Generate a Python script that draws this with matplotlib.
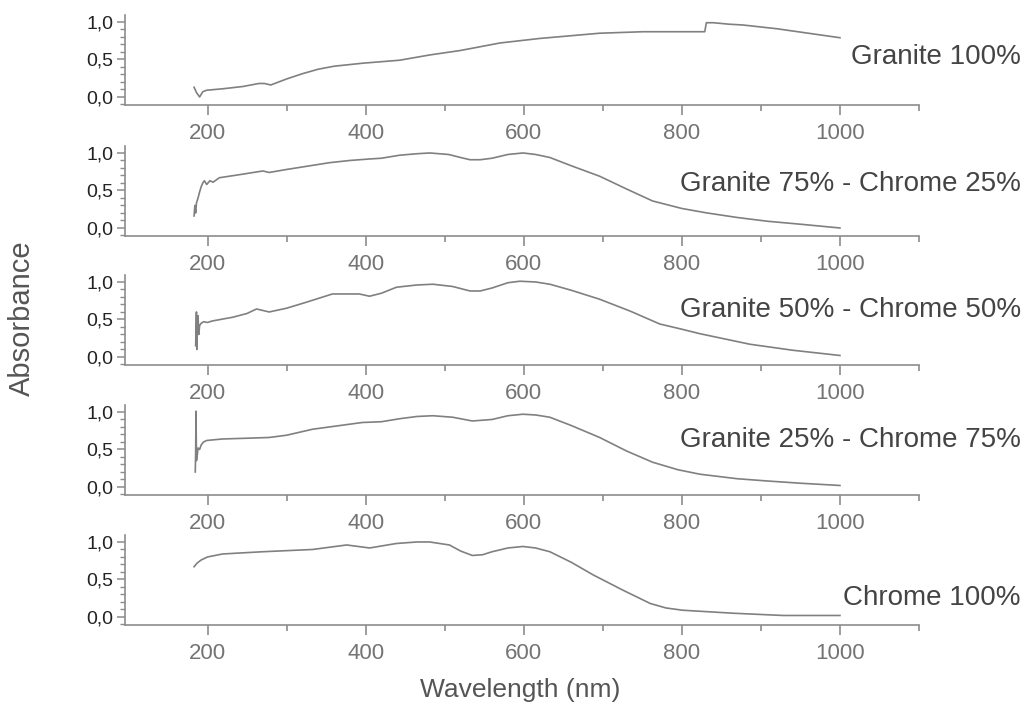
import numpy as np
import matplotlib
matplotlib.use('Agg')
import matplotlib.pyplot as plt
from matplotlib.ticker import MultipleLocator, FixedLocator

plt.rcParams['font.family'] = ['Liberation Sans', 'DejaVu Sans']

# spectra, one wavelength list per sample
wl_g100 = [183, 186, 190, 194, 199, 220, 245, 265, 272, 280, 300, 320, 340, 360, 396, 443, 481,
           520, 570, 620, 696, 751, 800, 829, 831, 840, 860, 877, 920, 960, 1000]
ab_g100 = [0.13, 0.06, 0.00, 0.07, 0.09, 0.11, 0.14, 0.18, 0.18, 0.16, 0.24, 0.31, 0.37, 0.41, 0.45, 0.49, 0.56,
           0.62, 0.72, 0.78, 0.85, 0.87, 0.87, 0.87, 0.99, 0.99, 0.97, 0.96, 0.91, 0.85, 0.79]

wl_g75 = [183, 184, 185, 186, 188, 190, 192, 194, 196, 199, 203, 207, 211, 215, 240, 270, 278, 300,
          354, 380, 405, 420, 443, 465, 481, 505, 520, 532, 545, 560, 580, 599, 615, 633, 660, 696, 730,
          763, 800, 832, 870, 908, 950, 1000]
ab_g75 = [0.16, 0.30, 0.20, 0.33, 0.40, 0.48, 0.55, 0.60, 0.63, 0.58, 0.63, 0.61, 0.64, 0.67, 0.71, 0.76, 0.74, 0.78,
          0.87, 0.90, 0.92, 0.93, 0.97, 0.99, 1.00, 0.98, 0.94, 0.91, 0.91, 0.93, 0.98, 1.00, 0.98, 0.94, 0.83, 0.69, 0.52,
          0.36, 0.26, 0.20, 0.14, 0.09, 0.05, 0.00]

wl_g50 = [185, 186, 186.5, 187, 188, 189, 190, 192, 195, 200, 206, 232, 250, 262, 278, 300, 325, 358,
          392, 405, 420, 439, 465, 485, 510, 532, 545, 560, 580, 595, 615, 633, 660, 696, 735, 772, 800,
          823, 886, 940, 1000]
ab_g50 = [0.15, 0.60, 0.10, 0.35, 0.55, 0.30, 0.42, 0.45, 0.47, 0.46, 0.48, 0.53, 0.58, 0.64, 0.60, 0.65, 0.73, 0.84,
          0.84, 0.81, 0.85, 0.93, 0.96, 0.97, 0.94, 0.88, 0.88, 0.92, 0.99, 1.01, 1.00, 0.97, 0.89, 0.77, 0.61, 0.44, 0.37,
          0.31, 0.17, 0.09, 0.02]

wl_g25 = [184.5, 185, 185.5, 186, 187, 188, 190, 192, 195, 199, 219, 250, 278, 300, 333, 396, 420,
          443, 465, 485, 510, 535, 560, 580, 599, 615, 633, 660, 696, 730, 763, 795, 823, 870, 908, 950, 1000]
ab_g25 = [0.20, 0.45, 1.01, 0.35, 0.42, 0.52, 0.50, 0.56, 0.60, 0.62, 0.64, 0.65, 0.66, 0.69, 0.77, 0.86, 0.87,
          0.91, 0.94, 0.95, 0.93, 0.88, 0.90, 0.95, 0.97, 0.96, 0.93, 0.82, 0.66, 0.48, 0.33, 0.23, 0.17, 0.11, 0.08,
          0.05, 0.02]

wl_c100 = [183, 187, 192, 200, 219, 270, 333, 376, 405, 439, 465, 481, 506, 520, 535, 548, 560, 580,
           599, 615, 633, 660, 688, 725, 760, 780, 801, 865, 928, 1000]
ab_c100 = [0.67, 0.72, 0.76, 0.80, 0.84, 0.87, 0.90, 0.96, 0.92, 0.98, 1.00, 1.00, 0.96, 0.88, 0.82, 0.83, 0.87, 0.92,
           0.94, 0.92, 0.87, 0.73, 0.56, 0.36, 0.18, 0.12, 0.09, 0.05, 0.02, 0.02]

labels = ['Granite 100%', 'Granite 75% - Chrome 25%', 'Granite 50% - Chrome 50%',
          'Granite 25% - Chrome 75%', 'Chrome 100%']
label_y = [0.53, 0.58, 0.62, 0.63, 0.25]
series = [(wl_g100, ab_g100), (wl_g75, ab_g75), (wl_g50, ab_g50), (wl_g25, ab_g25), (wl_c100, ab_c100)]

W, H = 1026, 711
fig = plt.figure(figsize=(W / 100, H / 100), dpi=100)

spine_px = [105, 236, 365, 495, 625]
left_px, right_px = 124.5, 919
ax_h = 90

line_col = '#808080'
axis_col = '#8c8c8c'

for i in range(5):
    ax = fig.add_axes([left_px / W, (H - spine_px[i]) / H, (right_px - left_px) / W, ax_h / H])
    x, y = series[i]
    ax.plot(x, y, color=line_col, lw=1.2)
    ax.set_xlim(95, 1100)
    ax.set_ylim(-0.107, 1.093)
    for s in ['top', 'right']:
        ax.spines[s].set_visible(False)
    for s in ['left', 'bottom']:
        ax.spines[s].set_color(axis_col)
        ax.spines[s].set_linewidth(1.2)
    ax.xaxis.set_major_locator(FixedLocator([200, 400, 600, 800, 1000]))
    ax.xaxis.set_minor_locator(FixedLocator([300, 500, 700, 900, 1100]))
    ax.yaxis.set_major_locator(FixedLocator([0.0, 0.5, 1.0]))
    ax.yaxis.set_minor_locator(MultipleLocator(0.1))
    ax.set_yticklabels(['0,0', '0,5', '1,0'])
    ax.tick_params(axis='x', which='major', length=7, width=1.2, color=axis_col,
                   labelsize=16, labelcolor='#747474', pad=6)
    ax.tick_params(axis='x', which='minor', length=4, width=1.2, color=axis_col)
    ax.tick_params(axis='y', which='major', length=6, width=1.1, color=axis_col,
                   labelsize=14, labelcolor='#222222', pad=2)
    ax.tick_params(axis='y', which='minor', length=3.5, width=1.0, color=axis_col)
    ax.text(1.128, label_y[i], labels[i], transform=ax.get_yaxis_transform(),
            ha='right', va='center', fontsize=20, color='#444444')

fig.text(520 / W, 1 - 690 / H, 'Wavelength (nm)', ha='center', va='center',
         fontsize=19, color='#555555')
fig.text(22 / W, 1 - 318 / H, 'Absorbance', ha='center', va='center', rotation=90,
         fontsize=21, color='#555555')

fig.savefig('out.png', dpi=100, facecolor='white')
